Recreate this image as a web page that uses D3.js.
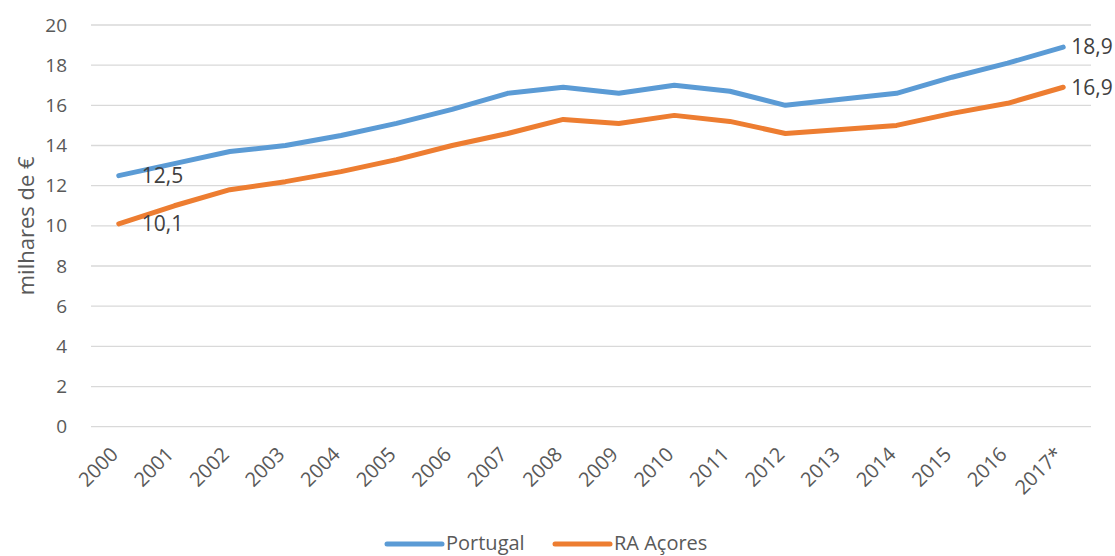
<!DOCTYPE html>
<html>
<head>
<meta charset="utf-8">
<script src="https://cdn.jsdelivr.net/npm/d3@7"></script>
<style>
  html, body { margin: 0; padding: 0; background: #fff; }
  svg { display: block; font-family: "Open Sans", "Noto Sans", sans-serif; }
</style>
</head>
<body>
<svg id="chart" width="1115" height="556"></svg>
<script>
const categories = ["2000","2001","2002","2003","2004","2005","2006","2007","2008","2009","2010","2011","2012","2013","2014","2015","2016","2017*"];
const portugal = [12.5,13.1,13.7,14.0,14.5,15.1,15.8,16.6,16.9,16.6,17.0,16.7,16.0,16.3,16.6,17.4,18.1,18.9];
const acores   = [10.1,11.0,11.8,12.2,12.7,13.3,14.0,14.6,15.3,15.1,15.5,15.2,14.6,14.8,15.0,15.6,16.1,16.9];
const yTicks = [0,2,4,6,8,10,12,14,16,18,20];
const seriesNames = ["Portugal","RA Açores"];
const colors = ["#5B9BD5","#ED7D31"];

(function () {
const svg = d3.select("#chart");
const pLeft = 91, pRight = 1091, pTop = 25, pBottom = 426.7;
const textColor = "#595959";
const fs = 19;

const x = d3.scalePoint().domain(categories).range([pLeft, pRight]).padding(0.5);
const y = d3.scaleLinear().domain([0, 20]).range([pBottom, pTop]);

// gridlines
svg.append("g").selectAll("line").data(yTicks).join("line")
  .attr("x1", pLeft).attr("x2", pRight)
  .attr("y1", d => y(d)).attr("y2", d => y(d))
  .attr("stroke", "#D9D9D9").attr("stroke-width", 1.3);

// y axis labels
const yAxis = d3.axisLeft(y).tickValues(yTicks).tickSize(0).tickPadding(0).tickFormat(d => d);
const gy = svg.append("g").attr("transform", `translate(${pLeft - 24},0)`).call(yAxis);
gy.select(".domain").remove();
gy.selectAll("text").attr("font-size", fs).attr("fill", textColor)
  .attr("font-family", "'Open Sans', 'Noto Sans', sans-serif");

// x axis labels
const xAxis = d3.axisBottom(x).tickSize(0).tickPadding(0);
const gx = svg.append("g").attr("transform", `translate(0,${pBottom})`).call(xAxis);
gx.select(".domain").remove();
gx.selectAll("text")
  .attr("font-size", 20).attr("fill", textColor)
  .attr("font-family", "'Open Sans', 'Noto Sans', sans-serif")
  .attr("text-anchor", "end")
  .attr("dy", "0.35em")
  .attr("transform", "translate(-5,24) rotate(-45)");

// y axis title
svg.append("text")
  .attr("transform", `translate(34,${(pTop + pBottom) / 2}) rotate(-90)`)
  .attr("text-anchor", "middle")
  .attr("font-size", 22).attr("fill", textColor)
  .text("milhares de €");

// lines
const line = d3.line().x((d, i) => x(categories[i])).y(d => y(d));
[portugal, acores].forEach((s, k) => {
  svg.append("path").datum(s)
    .attr("d", line)
    .attr("fill", "none")
    .attr("stroke", colors[k])
    .attr("stroke-width", 5)
    .attr("stroke-linecap", "round")
    .attr("stroke-linejoin", "round");
});

// data labels
const n = categories.length - 1;
const labels = [
  {v: portugal[0], i: 0, dx: 23},
  {v: acores[0], i: 0, dx: 23},
  {v: portugal[n], i: n, dx: 8},
  {v: acores[n], i: n, dx: 8}
];
svg.append("g").selectAll("text").data(labels).join("text")
  .attr("x", d => x(categories[d.i]) + d.dx)
  .attr("y", d => y(d.v))
  .attr("dy", "0.35em")
  .attr("font-size", 21).attr("fill", "#404040")
  .text(d => d3.format(".1f")(d.v).replace(".", ","));

// legend
const legendItems = [
  {name: seriesNames[0], color: colors[0], x0: 387},
  {name: seriesNames[1], color: colors[1], x0: 555}
];
const lg = svg.append("g");
legendItems.forEach(it => {
  lg.append("line")
    .attr("x1", it.x0).attr("x2", it.x0 + 55)
    .attr("y1", 544).attr("y2", 544)
    .attr("stroke", it.color).attr("stroke-width", 5).attr("stroke-linecap", "round");
  lg.append("text")
    .attr("x", it.x0 + 59).attr("y", 543).attr("dy", "0.35em")
    .attr("font-size", 20).attr("fill", textColor)
    .text(it.name);
});
})();
</script>
</body>
</html>
